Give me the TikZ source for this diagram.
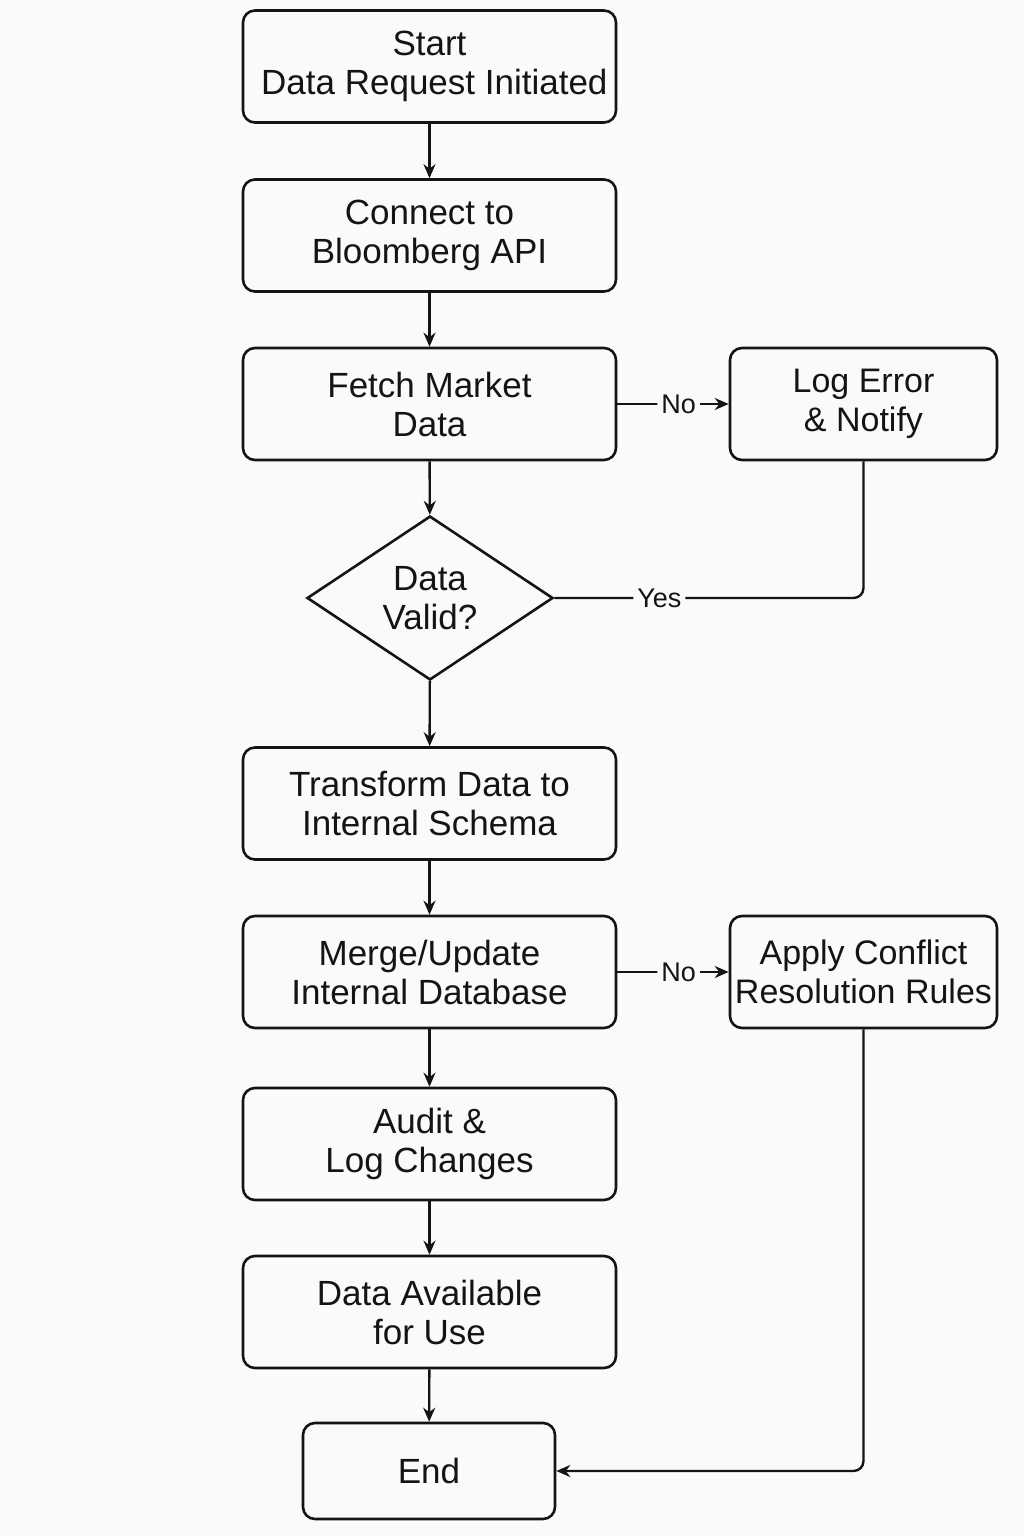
\documentclass[tikz,border=0pt]{standalone}
\usepackage{fontspec}
\setmainfont{Liberation Sans}
\usetikzlibrary{arrows.meta,shapes.geometric,positioning}
\definecolor{bg}{RGB}{250,250,250}
\definecolor{ink}{RGB}{20,20,20}
\tikzset{
  box/.style={draw=ink, line width=2.6pt, rounded corners=12pt, fill=bg, align=center,
    inner sep=2pt, font=\fontsize{35}{39}\selectfont, text=ink},
  mainbox/.style={box, minimum width=373pt, minimum height=112pt},
  sidebox/.style={box, minimum width=267pt, minimum height=112pt, font=\fontsize{34}{39}\selectfont},
  decision/.style={draw=ink, line width=2.6pt, diamond, aspect=1.5, fill=bg, align=center,
    inner sep=0pt, minimum width=246pt, minimum height=164pt, font=\fontsize{35}{39}\selectfont, text=ink},
  conn/.style={draw=ink, line width=2.4pt, rounded corners=10pt},
  arr/.style={conn, -{Stealth[length=14pt,width=12pt]}},
  lbl/.style={fill=bg, inner sep=4pt, font=\fontsize{27}{30}\selectfont, text=ink}
}
\begin{document}
\begin{tikzpicture}[x=1pt,y=-1pt]
\fill[bg] (0,0) rectangle (1024,1536);
\useasboundingbox (0,0) rectangle (1024,1536);

\node[mainbox] (start) at (429.5,66.5) {Start\\ \ Data Request Initiated};
\node[mainbox] (conn) at (429.5,235.5) {Connect to\\Bloomberg API};
\node[mainbox] (fetch) at (429.5,404) {Fetch Market\\Data};
\node[sidebox] (log) at (863.5,404) {Log Error\\\& Notify};
\node[decision] (dec) at (430,598) {Data\\Valid?};
\node[mainbox] (trans) at (429.5,803.5) {Transform Data to\\Internal Schema};
\node[mainbox] (merge) at (429.5,972) {Merge/Update\\Internal Database};
\node[sidebox] (apply) at (863.5,972) {Apply Conflict\\Resolution Rules};
\node[mainbox] (audit) at (429.5,1144) {Audit \&\\Log Changes};
\node[mainbox] (avail) at (429.5,1312) {Data Available\\for Use};
\node[box, minimum width=252pt, minimum height=96pt] (end) at (429,1471) {End};

\draw[arr] (start) -- (conn);
\draw[arr] (conn) -- (fetch);
\draw[arr] (fetch) -- (dec);
\draw[arr] (fetch) -- node[lbl, pos=0.55] {No} (log);
\draw[conn] (log.south) |- node[lbl, pos=0.83] {Yes} (dec.east);
\draw[arr] (dec) -- (trans);
\draw[arr] (trans) -- (merge);
\draw[arr] (merge) -- node[lbl, pos=0.55] {No} (apply);
\draw[arr] (merge) -- (audit);
\draw[arr] (audit) -- (avail);
\draw[arr] (avail) -- (end);
\draw[arr] (apply.south) |- (end.east);
\end{tikzpicture}
\end{document}
